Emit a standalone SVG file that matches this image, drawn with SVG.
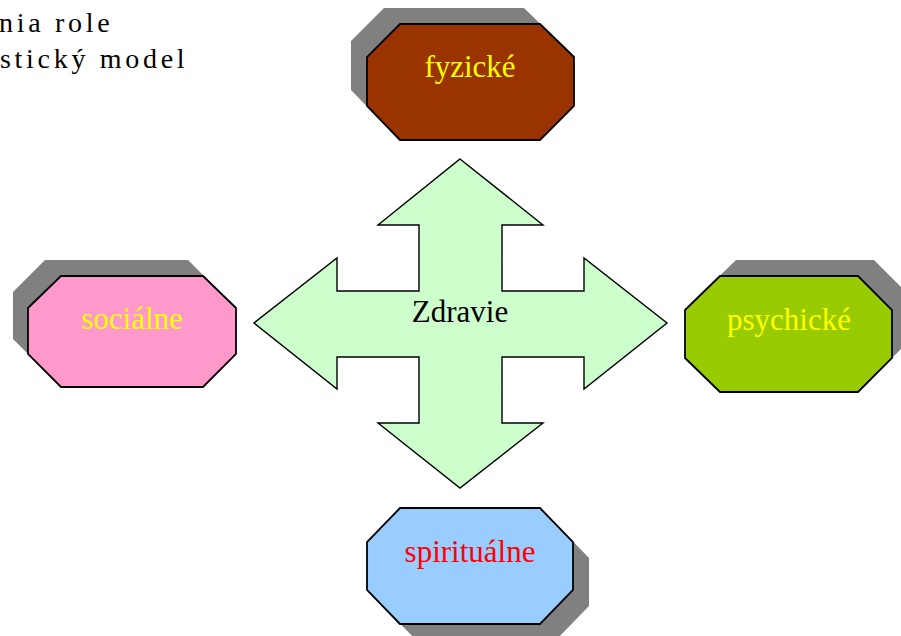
<svg xmlns="http://www.w3.org/2000/svg" width="901" height="636" viewBox="0 0 901 636">
  <style>
    .shadow { fill: #808080; stroke: none; }
    .oct { stroke: #000; stroke-width: 1.8; stroke-linejoin: miter; }
    .lbl { font-family: "Liberation Serif", "Times New Roman", serif; font-size: 31px; text-anchor: middle; }
    .title { font-family: "Liberation Serif", "Times New Roman", serif; font-size: 28px; letter-spacing: 3.7px; fill: #000; }
  </style>
  <defs>
    <!-- octagon with cut corners, local origin at top-left of its bounding box -->
    <polygon id="octW" points="33,0 173,0 207,33 207,82 173,116 33,116 0,82 0,33"/>
  </defs>
  <rect width="901" height="636" fill="#fff"/>

  <!-- title lines, clipped at the left edge -->
  <g id="title">
    <text class="title" x="-1" y="32">nia role</text>
    <text class="title" x="0" y="68">stický model</text>
  </g>

  <!-- central four-way arrow -->
  <g id="zdravie">
    <polygon points="460,159 543,225 502,225 502,291 584,291 584,258 667,323 584,389 584,357 502,357 502,423 543,423 460,488 378,423 419,423 419,357 337,357 337,389 254,323 337,258 337,291 419,291 419,225 378,225" fill="#CCFFCC" stroke="#000" stroke-width="1.4" stroke-linejoin="miter"/>
    <text class="lbl" x="460" y="322" fill="#000">Zdravie</text>
  </g>

  <g id="fyzicke">
    <use href="#octW" class="shadow" transform="translate(351,8)"/>
    <use href="#octW" class="oct" fill="#993300" transform="translate(367,24)"/>
    <text class="lbl" x="470" y="77" fill="#FFFF00">fyzické</text>
  </g>

  <g id="socialne">
    <polygon class="shadow" points="45,260 188,260 220,292 220,339 188,371 45,371 13,339 13,292"/>
    <polygon class="oct" fill="#FF99CC" points="61,276 203,276 236,308 236,354 203,387 61,387 28,354 28,308"/>
    <text class="lbl" x="132" y="329" fill="#FFFF00">sociálne</text>
  </g>

  <g id="psychicke">
    <polygon class="shadow" points="736,260 874,260 908,294 908,342 874,376 736,376 701,342 701,294"/>
    <polygon class="oct" fill="#99CC00" points="720,276 858,276 892,310 892,358 858,392 720,392 685,358 685,310"/>
    <text class="lbl" x="789" y="330" fill="#FFFF00">psychické</text>
  </g>

  <g id="spiritualne">
    <polygon class="shadow" points="416,524 556,524 589,558 589,606 556,640 416,640 383,606 383,558"/>
    <polygon class="oct" fill="#99CCFF" points="400,508 540,508 573,542 573,590 540,624 400,624 367,590 367,542"/>
    <text class="lbl" x="470" y="562" fill="#FF0000">spirituálne</text>
  </g>

  <g id="connectors"/>
</svg>
